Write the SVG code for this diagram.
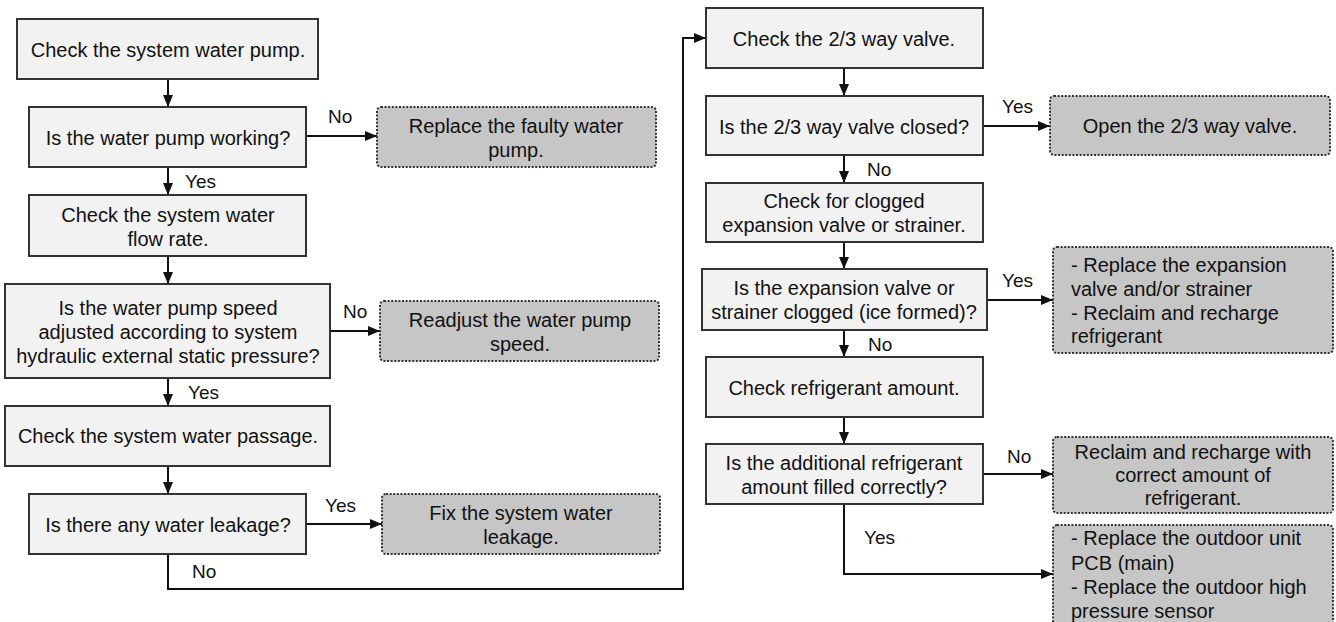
<svg xmlns="http://www.w3.org/2000/svg" width="1336" height="622" viewBox="0 0 1336 622">
<style>
.box{fill:#f2f2f2;stroke:#333;stroke-width:2}
.act{fill:#c6c6c6;stroke:#333;stroke-width:2;stroke-dasharray:2 1.6}
text{font-family:"Liberation Sans",Arial,sans-serif;font-size:20px;fill:#111}
.c{text-anchor:middle}
.lbl{font-size:19px}
.ln{fill:none;stroke:#111;stroke-width:2}
</style>
<defs>
<marker id="ah" markerUnits="userSpaceOnUse" markerWidth="12" markerHeight="10" refX="12" refY="5" orient="auto">
<path d="M0,0 L12,5 L0,10 z" fill="#111"/>
</marker>
</defs>
<rect x="0" y="0" width="1336" height="622" fill="#fff"/>

<g id="connectors">
<path class="ln" d="M168,79 V107" marker-end="url(#ah)"/>
<path class="ln" d="M306,136 H377" marker-end="url(#ah)"/>
<path class="ln" d="M168,167 V195" marker-end="url(#ah)"/>
<path class="ln" d="M168,256 V284" marker-end="url(#ah)"/>
<path class="ln" d="M330,331 H380" marker-end="url(#ah)"/>
<path class="ln" d="M168,378 V406" marker-end="url(#ah)"/>
<path class="ln" d="M168,466 V494" marker-end="url(#ah)"/>
<path class="ln" d="M306,524 H382" marker-end="url(#ah)"/>
<path class="ln" d="M168,554 V589 H683 V38 H706" marker-end="url(#ah)"/>
<path class="ln" d="M844,68 V96" marker-end="url(#ah)"/>
<path class="ln" d="M983,126 H1050" marker-end="url(#ah)"/>
<path class="ln" d="M844,155 V183" marker-end="url(#ah)"/>
<path class="ln" d="M844,242 V269" marker-end="url(#ah)"/>
<path class="ln" d="M987,300 H1053" marker-end="url(#ah)"/>
<path class="ln" d="M844,330 V357" marker-end="url(#ah)"/>
<path class="ln" d="M844,417 V444" marker-end="url(#ah)"/>
<path class="ln" d="M983,474 H1053" marker-end="url(#ah)"/>
<path class="ln" d="M844,504 V574 H1053" marker-end="url(#ah)"/>
<text class="lbl" x="328" y="123">No</text>
<text class="lbl" x="185" y="188">Yes</text>
<text class="lbl" x="343" y="318">No</text>
<text class="lbl" x="188" y="399">Yes</text>
<text class="lbl" x="325" y="512">Yes</text>
<text class="lbl" x="192" y="578">No</text>
<text class="lbl" x="1002" y="113">Yes</text>
<text class="lbl" x="867" y="176">No</text>
<text class="lbl" x="1002" y="287">Yes</text>
<text class="lbl" x="868" y="351">No</text>
<text class="lbl" x="1007" y="463">No</text>
<text class="lbl" x="864" y="544">Yes</text>
</g>

<g id="n1"><rect class="box" x="17" y="19" width="301" height="60"/><text class="c" x="168" y="57">Check the system water pump.</text></g>
<g id="n2"><rect class="box" x="29" y="107" width="277" height="60"/><text class="c" x="168" y="145">Is the water pump working?</text></g>
<g id="a1"><rect class="act" x="377" y="107" width="279" height="60" rx="4"/><text class="c" x="516" y="133">Replace the faulty water</text><text class="c" x="516" y="157">pump.</text></g>
<g id="n3"><rect class="box" x="29" y="195" width="277" height="61"/><text class="c" x="168" y="222">Check the system water</text><text class="c" x="168" y="246">flow rate.</text></g>
<g id="n4"><rect class="box" x="5" y="284" width="325" height="94"/><text class="c" x="168" y="315">Is the water pump speed</text><text class="c" x="168" y="339">adjusted according to system</text><text class="c" x="168" y="363">hydraulic external static pressure?</text></g>
<g id="a2"><rect class="act" x="380" y="301" width="279" height="60" rx="4"/><text class="c" x="520" y="327">Readjust the water pump</text><text class="c" x="520" y="351">speed.</text></g>
<g id="n5"><rect class="box" x="5" y="406" width="325" height="60"/><text class="c" x="168" y="443">Check the system water passage.</text></g>
<g id="n6"><rect class="box" x="29" y="494" width="277" height="60"/><text class="c" x="168" y="532">Is there any water leakage?</text></g>
<g id="a3"><rect class="act" x="382" y="494" width="278" height="60" rx="4"/><text class="c" x="521" y="520">Fix the system water</text><text class="c" x="521" y="544">leakage.</text></g>

<g id="r1"><rect class="box" x="706" y="8" width="277" height="60"/><text class="c" x="844" y="46">Check the 2/3 way valve.</text></g>
<g id="r2"><rect class="box" x="706" y="96" width="277" height="59"/><text class="c" x="844" y="134">Is the 2/3 way valve closed?</text></g>
<g id="b1"><rect class="act" x="1050" y="96" width="280" height="59" rx="4"/><text class="c" x="1190" y="133">Open the 2/3 way valve.</text></g>
<g id="r3"><rect class="box" x="706" y="183" width="277" height="59"/><text class="c" x="844" y="208">Check for clogged</text><text class="c" x="844" y="232">expansion valve or strainer.</text></g>
<g id="r4"><rect class="box" x="702" y="269" width="285" height="61"/><text class="c" x="844" y="295">Is the expansion valve or</text><text class="c" x="844" y="319">strainer clogged (ice formed)?</text></g>
<g id="b2"><rect class="act" x="1053" y="247" width="280" height="106" rx="4"/><text x="1071" y="272">- Replace the expansion</text><text x="1071" y="296">valve and/or strainer</text><text x="1071" y="320">- Reclaim and recharge</text><text x="1071" y="343">refrigerant</text></g>
<g id="r5"><rect class="box" x="706" y="357" width="277" height="60"/><text class="c" x="844" y="395">Check refrigerant amount.</text></g>
<g id="r6"><rect class="box" x="706" y="444" width="277" height="60"/><text class="c" x="844" y="470">Is the additional refrigerant</text><text class="c" x="844" y="494">amount filled correctly?</text></g>
<g id="b3"><rect class="act" x="1053" y="437" width="280" height="76" rx="4"/><text class="c" x="1193" y="459">Reclaim and recharge with</text><text class="c" x="1193" y="482">correct amount of</text><text class="c" x="1193" y="505">refrigerant.</text></g>
<g id="b4"><rect class="act" x="1053" y="525" width="280" height="110" rx="4"/><text x="1071" y="545">- Replace the outdoor unit</text><text x="1071" y="570">PCB (main)</text><text x="1071" y="594">- Replace the outdoor high</text><text x="1071" y="618">pressure sensor</text></g>
</svg>
